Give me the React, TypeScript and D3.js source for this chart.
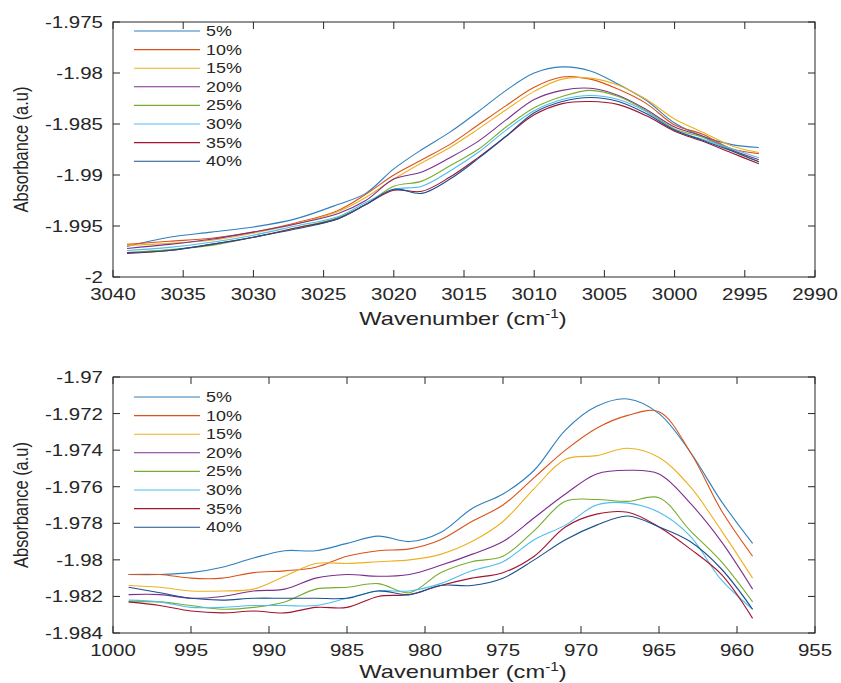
import * as d3 from 'd3'

const labels = ['5%', '10%', '15%', '20%', '25%', '30%', '35%', '40%']
const colors = ['#2f7fbf', '#d95319', '#edb120', '#7e2f8e', '#77ac30', '#4dbeee', '#a2142f', '#1b4f8f']

// upper panel, C-H stretch region
const topWavenumbers = [3039, 3036, 3033, 3030, 3027, 3024, 3022, 3020, 3018, 3016, 3014, 3012, 3010, 3008, 3006, 3004, 3002, 3000, 2998, 2996, 2994]
const top5 = [-1.997, -1.9961, -1.9956, -1.9951, -1.9943, -1.9929, -1.9918, -1.9894, -1.9875, -1.9858, -1.9838, -1.9817, -1.98, -1.9794, -1.9798, -1.9811, -1.9827, -1.9849, -1.9862, -1.987, -1.9873]
const top10 = [-1.9968, -1.9965, -1.9962, -1.9956, -1.9947, -1.9935, -1.9919, -1.99, -1.9885, -1.987, -1.9851, -1.9832, -1.9814, -1.9804, -1.9806, -1.9816, -1.983, -1.9851, -1.986, -1.9874, -1.9879]
const top15 = [-1.9969, -1.9967, -1.9964, -1.9957, -1.9948, -1.9936, -1.9922, -1.9904, -1.9888, -1.9873, -1.9855, -1.9836, -1.9818, -1.9806, -1.9805, -1.9812, -1.9826, -1.9845, -1.9858, -1.9871, -1.9878]
const top20 = [-1.9972, -1.9968, -1.9963, -1.9956, -1.9948, -1.9938, -1.9925, -1.9904, -1.9897, -1.9883, -1.9867, -1.9846, -1.9826, -1.9817, -1.9815, -1.9822, -1.9836, -1.9853, -1.9862, -1.9875, -1.9885]
const top25 = [-1.9976, -1.9973, -1.9969, -1.9961, -1.9952, -1.9942, -1.9929, -1.9911, -1.9906, -1.9891, -1.9875, -1.9853, -1.9834, -1.9823, -1.9817, -1.9823, -1.9837, -1.9855, -1.9863, -1.9876, -1.9887]
const top30 = [-1.9974, -1.9971, -1.9966, -1.9959, -1.995, -1.9941, -1.9927, -1.9914, -1.9911, -1.9896, -1.9878, -1.9856, -1.9837, -1.9826, -1.9822, -1.9826, -1.9838, -1.9856, -1.9865, -1.9874, -1.9883]
const top35 = [-1.9977, -1.9974, -1.9968, -1.9961, -1.9952, -1.9943, -1.9929, -1.9915, -1.9916, -1.9902, -1.9883, -1.9862, -1.9841, -1.983, -1.9828, -1.9831, -1.9842, -1.9857, -1.9867, -1.9878, -1.9889]
const top40 = [-1.9976, -1.9974, -1.9968, -1.9961, -1.9953, -1.9943, -1.9929, -1.9914, -1.9918, -1.9904, -1.9884, -1.9862, -1.9839, -1.9828, -1.9824, -1.9828, -1.984, -1.9856, -1.9866, -1.9876, -1.9887]
const topXTicks = [3040, 3035, 3030, 3025, 3020, 3015, 3010, 3005, 3000, 2995, 2990]
const topYTicks = [-2, -1.995, -1.99, -1.985, -1.98, -1.975]

// lower panel
const botWavenumbers = [999, 997, 995, 993, 991, 989, 987, 985, 983, 981, 979, 977, 975, 973, 971, 969, 967, 965, 963, 961, 959]
const bot5 = [-1.9808, -1.9808, -1.9807, -1.9804, -1.9799, -1.9795, -1.9795, -1.9791, -1.9787, -1.979, -1.9785, -1.9772, -1.9764, -1.9751, -1.9729, -1.9716, -1.9712, -1.972, -1.9741, -1.9768, -1.9791]
const bot10 = [-1.9808, -1.9808, -1.981, -1.981, -1.9807, -1.9806, -1.9804, -1.9798, -1.9795, -1.9794, -1.9789, -1.9779, -1.977, -1.9755, -1.974, -1.9728, -1.9721, -1.9719, -1.9741, -1.9773, -1.9798]
const bot15 = [-1.9814, -1.9815, -1.9817, -1.9817, -1.9816, -1.9809, -1.9802, -1.9802, -1.9801, -1.98, -1.9797, -1.979, -1.9779, -1.9761, -1.9745, -1.9743, -1.9739, -1.9744, -1.976, -1.9784, -1.981]
const bot20 = [-1.9819, -1.9819, -1.9821, -1.982, -1.9817, -1.9816, -1.981, -1.9808, -1.9809, -1.9808, -1.9803, -1.9797, -1.979, -1.9777, -1.9764, -1.9753, -1.9751, -1.9753, -1.9769, -1.979, -1.9816]
const bot25 = [-1.9823, -1.9823, -1.9825, -1.9827, -1.9826, -1.9823, -1.9816, -1.9815, -1.9813, -1.9818, -1.9807, -1.9801, -1.9798, -1.9784, -1.9768, -1.9767, -1.9768, -1.9766, -1.9784, -1.9801, -1.9823]
const bot30 = [-1.9822, -1.9823, -1.9826, -1.9826, -1.9825, -1.9825, -1.9825, -1.9821, -1.9817, -1.9817, -1.9813, -1.9806, -1.9801, -1.9789, -1.9781, -1.977, -1.9769, -1.9774, -1.9787, -1.9811, -1.9827]
const bot35 = [-1.9823, -1.9825, -1.9828, -1.9829, -1.9828, -1.9829, -1.9826, -1.9826, -1.982, -1.9819, -1.9814, -1.981, -1.9807, -1.9798, -1.9782, -1.9775, -1.9774, -1.9782, -1.9794, -1.9808, -1.9832]
const bot40 = [-1.9815, -1.9818, -1.9821, -1.9822, -1.9821, -1.9821, -1.9821, -1.9821, -1.9817, -1.9819, -1.9814, -1.9814, -1.981, -1.98, -1.9789, -1.9781, -1.9776, -1.9782, -1.979, -1.9805, -1.9827]
const botXTicks = [1000, 995, 990, 985, 980, 975, 970, 965, 960, 955]
const botYTicks = [-1.984, -1.982, -1.98, -1.978, -1.976, -1.974, -1.972, -1.97]

const topSeries = [top5, top10, top15, top20, top25, top30, top35, top40]
const botSeries = [bot5, bot10, bot15, bot20, bot25, bot30, bot35, bot40]

const font = 'Liberation Sans, Arial, Helvetica, sans-serif'
const sx = 1.28 // the figure is stretched horizontally
const axisColor = '#262626'
const left = 113
const right = 815
const tickLen = 7

type PanelProps = {
  y0: number
  y1: number
  xs: number[]
  series: number[][]
  xTicks: number[]
  yTicks: number[]
  legendTop: number
  labelOffset: number
}

const fmt = (v: number) => String(+v.toFixed(4))

function Panel({ y0, y1, xs, series, xTicks, yTicks, legendTop, labelOffset }: PanelProps) {
  const x = d3.scaleLinear().domain([xTicks[0], xTicks[xTicks.length - 1]]).range([left, right])
  const y = d3.scaleLinear().domain([yTicks[0], yTicks[yTicks.length - 1]]).range([y1, y0])

  const line = d3
    .line<number>()
    .x((_, i) => x(xs[i]))
    .y((d) => y(d))
    .curve(d3.curveCatmullRom.alpha(0.5))

  return (
    <g>
      {series.map((s, i) => (
        <path key={labels[i]} d={line(s) || undefined} fill="none" stroke={colors[i]} strokeWidth={1.1} />
      ))}

      <rect x={left} y={y0} width={right - left} height={y1 - y0} fill="none" stroke={axisColor} strokeWidth={1} />

      {xTicks.map((t) => (
        <g key={t}>
          <line x1={x(t)} x2={x(t)} y1={y1} y2={y1 - tickLen} stroke={axisColor} />
          <line x1={x(t)} x2={x(t)} y1={y0} y2={y0 + tickLen} stroke={axisColor} />
          <text
            transform={`translate(${x(t)},${y1 + 23}) scale(${sx},1)`}
            textAnchor="middle"
            fontSize={16}
            fontFamily={font}
            fill={axisColor}
          >
            {fmt(t)}
          </text>
        </g>
      ))}

      {yTicks.map((t) => (
        <g key={t}>
          <line x1={left} x2={left + tickLen} y1={y(t)} y2={y(t)} stroke={axisColor} />
          <line x1={right} x2={right - tickLen} y1={y(t)} y2={y(t)} stroke={axisColor} />
          <text
            transform={`translate(${left - 10},${y(t) + 6}) scale(${sx},1)`}
            textAnchor="end"
            fontSize={16}
            fontFamily={font}
            fill={axisColor}
          >
            {fmt(t)}
          </text>
        </g>
      ))}

      <text
        transform={`translate(${left + (right - left) / 2 - 1},${y1 + labelOffset}) scale(${sx},1)`}
        textAnchor="middle"
        fontSize={18.5}
        fontFamily={font}
        fill={axisColor}
      >
        Wavenumber (cm
        <tspan fontSize={12} dy={-7}>-1</tspan>
        <tspan dy={7}>)</tspan>
      </text>

      <text
        transform={`translate(28,${(y0 + y1) / 2}) scale(${sx},1) rotate(-90)`}
        textAnchor="middle"
        fontSize={16.4}
        fontFamily={font}
        fill={axisColor}
      >
        Absorbance (a.u)
      </text>

      {labels.map((l, i) => {
        const ly = legendTop + i * 18.6
        return (
          <g key={l}>
            <line x1={134} x2={200} y1={ly} y2={ly} stroke={colors[i]} strokeWidth={1.1} />
            <text
              transform={`translate(206,${ly + 5}) scale(${sx},1)`}
              fontSize={14}
              fontFamily={font}
              fill={axisColor}
            >
              {l}
            </text>
          </g>
        )
      })}
    </g>
  )
}

export default function App() {
  return (
    <svg
      width={841}
      height={683}
      style={{ position: 'absolute', left: 0, top: 0, background: '#fff' }}
    >
      <Panel
        y0={22}
        y1={277}
        xs={topWavenumbers}
        series={topSeries}
        xTicks={topXTicks}
        yTicks={topYTicks}
        legendTop={31}
        labelOffset={48}
      />
      <Panel
        y0={377}
        y1={633}
        xs={botWavenumbers}
        series={botSeries}
        xTicks={botXTicks}
        yTicks={botYTicks}
        legendTop={397}
        labelOffset={45}
      />
    </svg>
  )
}
